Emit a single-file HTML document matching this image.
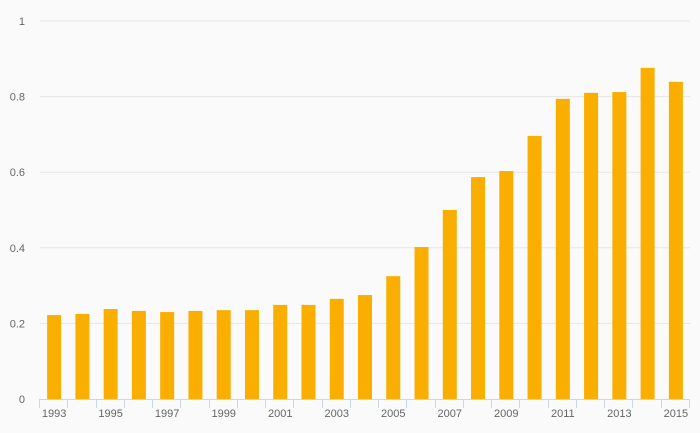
<!DOCTYPE html>
<html><head><meta charset="utf-8"><style>
body{margin:0;background:#fafafa;}
svg{display:block;font-family:"Liberation Sans",sans-serif;}
</style></head><body>
<svg id="chart" width="700" height="433">
<rect width="700" height="433" fill="#fafafa"/>
</svg>
<script>
const years=["1993","1994","1995","1996","1997","1998","1999","2000","2001","2002","2003","2004","2005","2006","2007","2008","2009","2010","2011","2012","2013","2014","2015"];
const values=[0.222,0.225,0.238,0.233,0.230,0.233,0.235,0.235,0.249,0.249,0.265,0.275,0.325,0.402,0.500,0.587,0.603,0.696,0.794,0.810,0.812,0.876,0.839];
const yTicks=[0,0.2,0.4,0.6,0.8,1];
const yTickLabels=["0","0.2","0.4","0.6","0.8","1"];
const svg=document.getElementById('chart');
const NS='http://www.w3.org/2000/svg';
const x0=40,x1=690,yTop=21,yBot=399;
const bw=(x1-x0)/years.length;
const y=v=>yBot-(v)*(yBot-yTop);
const xc=i=>x0+bw*(i+0.5);
function mk(t,a){const e=document.createElementNS(NS,t);for(const k in a)e.setAttribute(k,a[k]);svg.appendChild(e);return e;}
yTicks.forEach((t,i)=>{
 if(t>0){const g=mk('line',{x1:x0,x2:x1,y1:y(t),y2:y(t),stroke:'#e6e6e6','stroke-width':1});
 
 }
 const l=mk('text',{x:25,y:y(t)+4,'text-anchor':'end','font-size':11,fill:'#666'});
 l.textContent=yTickLabels[i];
 
 
});
values.forEach((v,i)=>{
 const r=mk('rect',{x:xc(i)-7,y:y(v),width:14,height:yBot-y(v),fill:'#f9ae00'});
 
 
});
const ax=mk('line',{x1:x0,x2:x1,y1:yBot+0.5,y2:yBot+0.5,stroke:'#ccd6eb','stroke-width':1});


for(let i=0;i<=years.length;i++){
 const tx=Math.round(x0+bw*i)-0.5;
 const t=mk('line',{x1:tx,x2:tx,y1:yBot,y2:yBot+9,stroke:'#ccd6eb','stroke-width':1});
 
 
}
years.forEach((yr,i)=>{
 if(i%2)return;
 const l=mk('text',{x:xc(i),y:417,'text-anchor':'middle','font-size':11,fill:'#666'});
 l.textContent=yr;
 
 
});
</script>
</body></html>
